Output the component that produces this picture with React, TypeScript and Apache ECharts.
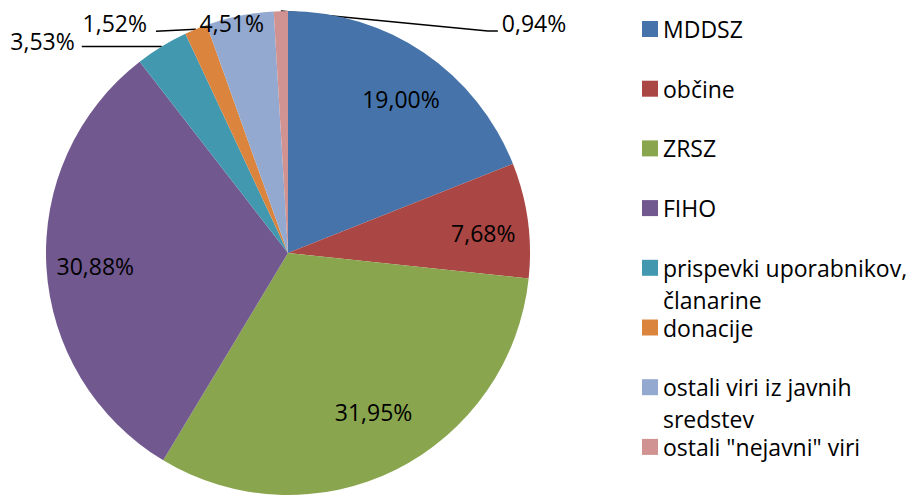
import React, { useEffect, useRef } from 'react';
import * as echarts from 'echarts';

const categories = [
  'MDDSZ',
  'občine',
  'ZRSZ',
  'FIHO',
  'prispevki uporabnikov, članarine',
  'donacije',
  'ostali viri iz javnih sredstev',
  'ostali "nejavni" viri',
];
const values = [19.0, 7.68, 31.95, 30.88, 3.53, 1.52, 4.51, 0.94];
const colors = ['#4674AA', '#AA4644', '#89A54E', '#71588F', '#4198AF', '#DB843D', '#93A9CF', '#D09392'];
const legendFirstLines = [
  'MDDSZ',
  'občine',
  'ZRSZ',
  'FIHO',
  'prispevki uporabnikov,',
  'donacije',
  'ostali viri iz javnih',
  'ostali "nejavni" viri',
];
const legendSecondLines = ['', '', '', '', 'članarine', '', 'sredstev', ''];
const insideLabelIdx = [0, 1, 2, 3];
// fine nudges of the inside labels [dx, dy]
const insideNudge = [
  [5, 5],
  [5, 6],
  [0, -13],
  [-1, 2],
];

const FONT = "'Open Sans', sans-serif";
const FS = 23;
const fmt = (v: number) => v.toFixed(2).replace('.', ',') + '%';

export default function App() {
  const ref = useRef<HTMLDivElement>(null);
  useEffect(() => {
    if (!ref.current) return;
    const chart = echarts.init(ref.current, undefined, { renderer: 'svg' });
    const cx = 288;
    const cy = 253;
    const R = 242;
    const legendTop0 = 29;
    const legendStep = 59.7;
    const legendLeft = 642;

    const legends = categories.map((name, i) => ({
      data: [name],
      left: legendLeft,
      top: legendTop0 + i * legendStep - FS / 2,
      orient: 'vertical',
      padding: 0,
      itemWidth: 16,
      itemHeight: 16,
      icon: 'rect',
      selectedMode: false,
      formatter: () => legendFirstLines[i],
      textStyle: { fontFamily: FONT, fontSize: FS, color: '#000', lineHeight: FS },
    }));

    const secondLines = legendSecondLines
      .map((t, i) => ({ t, i }))
      .filter((o) => o.t)
      .map((o) => ({
        type: 'text',
        left: legendLeft + 21,
        top: legendTop0 + o.i * legendStep + 32 - FS / 2,
        style: { text: o.t, fontFamily: FONT, fontSize: FS, fill: '#000', lineHeight: FS },
      }));

    const mainData = categories.map((name, i) => ({
      name,
      value: values[i],
      itemStyle: { color: colors[i] },
      label: { show: !insideLabelIdx.includes(i) },
      labelLine: { show: !insideLabelIdx.includes(i), length: 0, length2: 0 },
    }));

    const overlayData = categories.map((name, i) => ({
      name: 'lbl-' + name,
      value: values[i],
      label: { show: insideLabelIdx.includes(i) },
    }));

    chart.setOption({
      animation: false,
      backgroundColor: '#fff',
      legend: legends,
      graphic: secondLines,
      series: [
        {
          type: 'pie',
          center: [cx, cy],
          radius: [0, R],
          startAngle: 90,
          clockwise: true,
          avoidLabelOverlap: false,
          silent: true,
          itemStyle: { borderWidth: 0 },
          label: {
            show: false,
            position: 'outside',
            formatter: (p: any) => fmt(p.value),
            fontFamily: FONT,
            fontSize: FS,
            color: '#000',
          },
          labelLine: { lineStyle: { color: '#000', width: 1.5 } },
          labelLayout: (p: any) => {
            const i = p.dataIndex;
            const pts = p.labelLinePoints;
            if (!pts || !pts[0]) return {};
            const ex = pts[0][0];
            const ey = pts[0][1];
            if (i === 4) {
              const lx = ex - 80;
              return { x: lx - 7, y: ey - 6, align: 'right', verticalAlign: 'middle', labelLinePoints: [[ex, ey], [lx, ey]] };
            }
            if (i === 5) {
              const lx = ex - 40;
              return { x: lx - 9, y: ey - 6, align: 'right', verticalAlign: 'middle', labelLinePoints: [[ex, ey], [lx, ey + 2]] };
            }
            if (i === 6) {
              return { x: ex - 8, y: ey + 7, align: 'center', verticalAlign: 'middle', labelLinePoints: [[ex, ey], [ex, ey]] };
            }
            if (i === 7) {
              return {
                x: ex + 221,
                y: ey + 11.5,
                align: 'left',
                verticalAlign: 'middle',
                labelLinePoints: [[ex, ey], [ex + 207, ey + 20], [ex + 217, ey + 20]],
              };
            }
            return {};
          },
          data: mainData,
        },
        {
          type: 'pie',
          center: [cx, cy],
          radius: [136, R],
          startAngle: 90,
          clockwise: true,
          silent: true,
          avoidLabelOverlap: false,
          itemStyle: { color: 'rgba(0,0,0,0)', borderWidth: 0 },
          label: {
            show: false,
            position: 'inside',
            formatter: (p: any) => fmt(p.value),
            fontFamily: FONT,
            fontSize: FS,
            color: '#000',
          },
          labelLine: { show: false },
          labelLayout: (p: any) => {
            const k = insideLabelIdx.indexOf(p.dataIndex);
            if (k < 0 || !p.labelRect) return {};
            const r = p.labelRect;
            return {
              x: r.x + r.width / 2 + insideNudge[k][0],
              y: r.y + r.height / 2 + insideNudge[k][1],
              align: 'center',
              verticalAlign: 'middle',
            };
          },
          data: overlayData,
        },
      ],
    } as any);
    return () => chart.dispose();
  }, []);

  return (
    <div
      ref={ref}
      style={{ position: 'fixed', left: 0, top: 0, width: 912, height: 496, background: '#fff' }}
    />
  );
}
